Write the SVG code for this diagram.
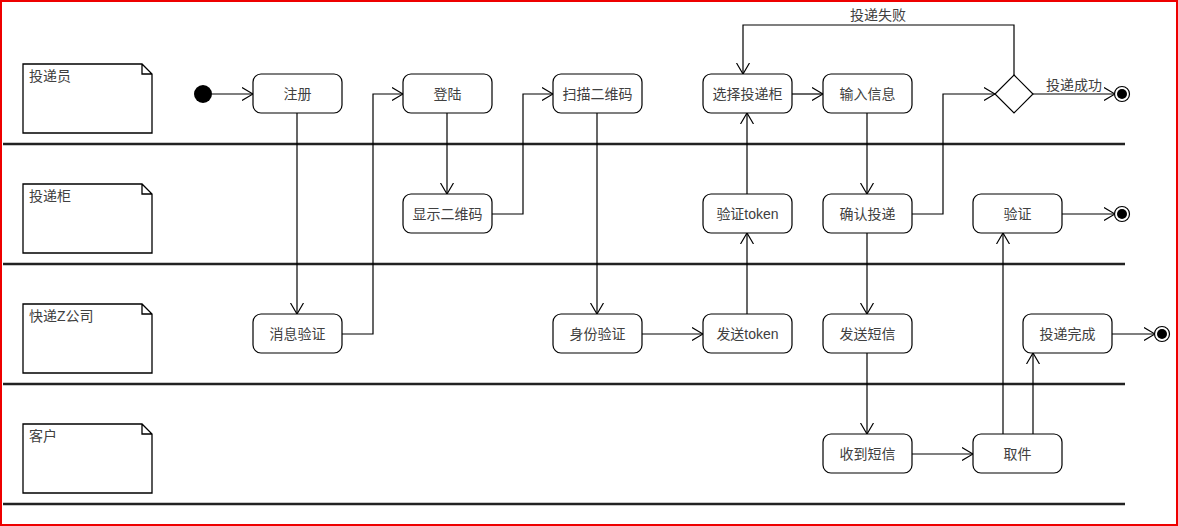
<svg xmlns="http://www.w3.org/2000/svg" width="1178" height="526" viewBox="0 0 1178 526">
<style>
.bg{fill:#fff}
.frame{fill:none;stroke:#e00;stroke-width:2}
.lane{stroke:#222;stroke-width:2.5}
.note{fill:#fff;stroke:#000;stroke-width:1.3}
.act{fill:#fff;stroke:#000;stroke-width:1.2}
.c{fill:none;stroke:#000;stroke-width:1.2}
text{font-family:"Liberation Sans","Noto Sans CJK SC",sans-serif;font-size:14px;fill:#404040}
.m{text-anchor:middle}
</style>
<defs>
<marker id="ar" viewBox="0 0 12 14" refX="11" refY="7" markerWidth="12" markerHeight="14" markerUnits="userSpaceOnUse" orient="auto">
<path d="M0,0.5 L11,7 L0,13.5" fill="none" stroke="#000" stroke-width="1.2"/>
</marker>
</defs>
<rect class="bg" x="0" y="0" width="1178" height="526"/>
<rect class="frame" x="1" y="1" width="1176" height="524"/>
<g id="lanes">
<line class="lane" x1="3" y1="144" x2="1125" y2="144"/>
<line class="lane" x1="3" y1="264" x2="1125" y2="264"/>
<line class="lane" x1="3" y1="384" x2="1125" y2="384"/>
<line class="lane" x1="3" y1="504" x2="1125" y2="504"/>
</g>
<g id="note-courier"><path class="note" d="M23,64 H142 L152,74 V133 H23 Z M142,64 V74 H152"/><text x="29" y="81">投递员</text></g>
<g id="note-locker"><path class="note" d="M23,184 H142 L152,194 V253 H23 Z M142,184 V194 H152"/><text x="29" y="201">投递柜</text></g>
<g id="note-company"><path class="note" d="M23,304 H142 L152,314 V373 H23 Z M142,304 V314 H152"/><text x="29" y="321">快递Z公司</text></g>
<g id="note-customer"><path class="note" d="M23,424 H142 L152,434 V493 H23 Z M142,424 V434 H152"/><text x="29" y="441">客户</text></g>

<g id="connectors">
<path class="c" d="M212,94 H253" marker-end="url(#ar)"/>
<path class="c" d="M297,113 V314" marker-end="url(#ar)"/>
<path class="c" d="M342,334 H373 V94 H403" marker-end="url(#ar)"/>
<path class="c" d="M447,113 V194" marker-end="url(#ar)"/>
<path class="c" d="M492,214 H523 V94 H553" marker-end="url(#ar)"/>
<path class="c" d="M597,113 V314" marker-end="url(#ar)"/>
<path class="c" d="M642,334 H703" marker-end="url(#ar)"/>
<path class="c" d="M747,314 V233" marker-end="url(#ar)"/>
<path class="c" d="M747,194 V113" marker-end="url(#ar)"/>
<path class="c" d="M792,94 H823" marker-end="url(#ar)"/>
<path class="c" d="M867,113 V194" marker-end="url(#ar)"/>
<path class="c" d="M912,214 H943 V94 H995" marker-end="url(#ar)"/>
<path class="c" d="M1014,75 V25 H743 V74" marker-end="url(#ar)"/>
<text class="m" x="878" y="20">投递失败</text>
<path class="c" d="M1033,94 H1115" marker-end="url(#ar)"/>
<text x="1046" y="90">投递成功</text>
<path class="c" d="M867,233 V314" marker-end="url(#ar)"/>
<path class="c" d="M867,353 V434" marker-end="url(#ar)"/>
<path class="c" d="M912,454 H973" marker-end="url(#ar)"/>
<path class="c" d="M1003,434 V233" marker-end="url(#ar)"/>
<path class="c" d="M1033,434 V353" marker-end="url(#ar)"/>
<path class="c" d="M1062,214 H1115" marker-end="url(#ar)"/>
<path class="c" d="M1112,334 H1155" marker-end="url(#ar)"/>
</g>

<g id="start"><circle cx="203" cy="94" r="9" fill="#000"/></g>
<g id="n-register"><rect class="act" x="253" y="74" width="89" height="39" rx="8"/><text class="m" x="297.5" y="99">注册</text></g>
<g id="n-login"><rect class="act" x="403" y="74" width="89" height="39" rx="8"/><text class="m" x="447.5" y="99">登陆</text></g>
<g id="n-scan"><rect class="act" x="553" y="74" width="89" height="39" rx="8"/><text class="m" x="597.5" y="99">扫描二维码</text></g>
<g id="n-select"><rect class="act" x="703" y="74" width="89" height="39" rx="8"/><text class="m" x="747.5" y="99">选择投递柜</text></g>
<g id="n-input"><rect class="act" x="823" y="74" width="89" height="39" rx="8"/><text class="m" x="867.5" y="99">输入信息</text></g>
<g id="n-decision"><path class="act" d="M1014,75 L1033,94 L1014,113 L995,94 Z"/></g>
<g id="end1"><circle cx="1122" cy="94" r="7.5" fill="#fff" stroke="#000" stroke-width="1.2"/><circle cx="1122" cy="94" r="5" fill="#000"/></g>

<g id="n-showqr"><rect class="act" x="403" y="194" width="89" height="39" rx="8"/><text class="m" x="447.5" y="219">显示二维码</text></g>
<g id="n-verifytoken"><rect class="act" x="703" y="194" width="89" height="39" rx="8"/><text class="m" x="747.5" y="219">验证token</text></g>
<g id="n-confirm"><rect class="act" x="823" y="194" width="89" height="39" rx="8"/><text class="m" x="867.5" y="219">确认投递</text></g>
<g id="n-verify"><rect class="act" x="973" y="194" width="89" height="39" rx="8"/><text class="m" x="1017.5" y="219">验证</text></g>
<g id="end2"><circle cx="1122" cy="214" r="7.5" fill="#fff" stroke="#000" stroke-width="1.2"/><circle cx="1122" cy="214" r="5" fill="#000"/></g>

<g id="n-msgverify"><rect class="act" x="253" y="314" width="89" height="39" rx="8"/><text class="m" x="297.5" y="339">消息验证</text></g>
<g id="n-idverify"><rect class="act" x="553" y="314" width="89" height="39" rx="8"/><text class="m" x="597.5" y="339">身份验证</text></g>
<g id="n-sendtoken"><rect class="act" x="703" y="314" width="89" height="39" rx="8"/><text class="m" x="747.5" y="339">发送token</text></g>
<g id="n-sendsms"><rect class="act" x="823" y="314" width="89" height="39" rx="8"/><text class="m" x="867.5" y="339">发送短信</text></g>
<g id="n-done"><rect class="act" x="1023" y="314" width="89" height="39" rx="8"/><text class="m" x="1067.5" y="339">投递完成</text></g>
<g id="end3"><circle cx="1162" cy="334" r="7.5" fill="#fff" stroke="#000" stroke-width="1.2"/><circle cx="1162" cy="334" r="5" fill="#000"/></g>

<g id="n-recvsms"><rect class="act" x="823" y="434" width="89" height="39" rx="8"/><text class="m" x="867.5" y="459">收到短信</text></g>
<g id="n-pickup"><rect class="act" x="973" y="434" width="89" height="39" rx="8"/><text class="m" x="1017.5" y="459">取件</text></g>
</svg>
